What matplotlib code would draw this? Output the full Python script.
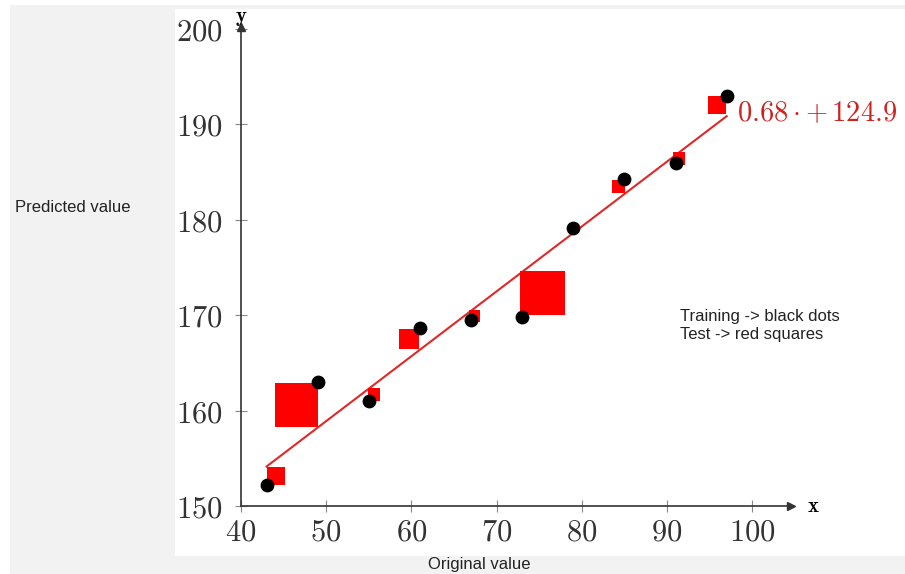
import matplotlib
matplotlib.use("Agg")
import matplotlib.pyplot as plt
from matplotlib.patches import Rectangle

plt.rcParams['mathtext.fontset'] = 'cm'

# Data
train_x = [43, 49, 55, 61, 67, 73, 79, 85, 91, 97]
train_y = [152.2, 163.0, 161.0, 168.7, 169.5, 169.8, 179.1, 184.3, 186.0, 193.0]
test_x = [44.1, 46.5, 55.6, 59.7, 67.4, 75.4, 84.3, 91.4, 95.9]
test_y = [153.1, 160.6, 161.7, 167.5, 169.9, 172.3, 183.5, 186.4, 192.0]
test_size = [13, 31.5, 9, 14, 8.5, 32, 9, 9, 13]  # marker size (pt)
slope, intercept = 0.68, 124.9
fit_x = [43, 97]
x_ticks = [40, 50, 60, 70, 80, 90, 100]
y_ticks = [150, 160, 170, 180, 190, 200]

W, H = 905, 574
fig = plt.figure(figsize=(W / 100, H / 100), dpi=100, facecolor='white')
bg = fig.add_axes([0, 0, 1, 1], zorder=-10)
bg.set_xlim(0, W)
bg.set_ylim(H, 0)
bg.axis('off')
bg.add_patch(Rectangle((10, 5), W, H, facecolor='#f2f2f2', edgecolor='none'))
bg.add_patch(Rectangle((175, 9), W, 556 - 9, facecolor='white', edgecolor='none'))

x0, x1 = 40, 104.5
y0, y1 = 150, 200.2
px_x0, px_x1 = 241, 241 + (x1 - x0) * 8.52
px_y0, px_y1 = 506, 506 - (y1 - y0) * 9.54
ax = fig.add_axes([px_x0 / W, (H - px_y0) / H, (px_x1 - px_x0) / W, (px_y0 - px_y1) / H])
ax.set_facecolor('none')
ax.set_xlim(x0, x1)
ax.set_ylim(y0, y1)
for s in ['top', 'right']:
    ax.spines[s].set_visible(False)
for s in ['left', 'bottom']:
    ax.spines[s].set_color('#333333')
    ax.spines[s].set_linewidth(1.2)

ax.set_xticks(x_ticks)
ax.set_yticks(y_ticks)
ax.set_xticklabels([f'${t}$' for t in x_ticks])
ax.set_yticklabels([f'${t}$' for t in y_ticks])
ax.tick_params(direction='inout', length=8, width=0.8, color='#888888',
               labelsize=22, labelcolor='#333333')
ax.tick_params(axis='y', pad=9)
ax.tick_params(axis='x', pad=4)

ax.plot(1, 0, '>', color='#333333', ms=6, transform=ax.transAxes, clip_on=False)
ax.plot(0, 1, '^', color='#333333', ms=6, transform=ax.transAxes, clip_on=False)
ax.text(1.03, 0, r'$\mathbf{x}$', transform=ax.transAxes, fontsize=15, ha='left', va='center')
ax.text(0, 1.02, r'$\mathbf{y}$', transform=ax.transAxes, fontsize=15, ha='center', va='center')

fit_y = [slope * v + intercept for v in fit_x]
ax.plot(fit_x, fit_y, color='#e02828', lw=1.5, zorder=2)

ax.scatter(test_x, test_y, s=[v ** 2 for v in test_size], marker='s', color='#ff0000',
           edgecolors='none', zorder=3, clip_on=False)
ax.scatter(train_x, train_y, s=80, color='black', zorder=4, clip_on=False)

ax.text(fit_x[1] + 1.2, fit_y[1] + 0.3, r'$0.68\cdot{+}\,124.9$', color='#d02020', fontsize=20.5,
        ha='left', va='center', clip_on=False)

fig.text(15 / W, 1 - 207 / H, 'Predicted value', fontsize=12, family='Liberation Sans',
         ha='left', va='center', color='#222222')
fig.text(479 / W, 1 - 564 / H, 'Original value', fontsize=12, family='Liberation Sans',
         ha='center', va='center', color='#222222')
fig.text(680 / W, 1 - 317 / H, 'Training -> black dots', fontsize=12, family='Liberation Sans',
         ha='left', va='center', color='#222222')
fig.text(680 / W, 1 - 335 / H, 'Test -> red squares', fontsize=12, family='Liberation Sans',
         ha='left', va='center', color='#222222')

fig.savefig('out.png', dpi=100, facecolor=fig.get_facecolor())
